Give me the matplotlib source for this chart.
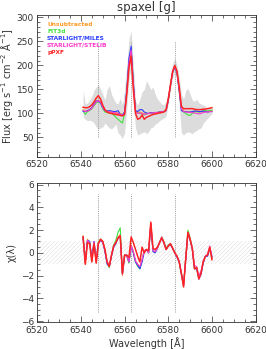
import matplotlib
matplotlib.use("Agg")
import matplotlib.pyplot as plt
from matplotlib.ticker import MultipleLocator

# ---------------- data ----------------
wavelength = list(range(6541, 6601))

flux_unsub = [108,104,106,108,112,118,124,128,124,114,107,105,104,104,103,102,101,100,98,100,
              145,205,232,160,106,102,103,101,99,100,100,101,101,102,102,103,104,104,106,128,
              158,186,198,185,150,112,105,104,104,103,104,105,104,103,104,105,105,104,105,106]
flux_fit3d = [106,98,104,106,110,116,122,125,121,110,103,102,101,100,97,92,88,84,80,100,
              145,205,232,160,104,100,101,99,97,99,100,101,101,102,102,103,104,104,106,128,
              158,186,196,184,148,110,103,100,97,96,100,103,104,103,104,105,106,105,106,107]
flux_miles = [104,104,106,108,112,120,126,126,122,112,106,105,106,105,104,104,106,98,96,104,
              150,215,240,165,106,104,108,108,103,101,100,102,101,102,102,103,104,104,106,128,
              158,186,197,184,148,106,104,104,103,103,104,105,105,104,104,105,104,103,104,104]
flux_stelib = [106,104,105,107,111,118,124,127,123,113,106,104,103,103,102,101,100,98,96,100,
               145,205,232,160,104,100,101,100,98,99,100,101,101,102,102,103,104,104,106,128,
               158,186,198,185,150,110,104,103,103,102,102,101,100,99,100,102,103,103,104,104]
flux_ppxf = [113,112,112,114,118,124,132,137,130,117,108,103,101,100,99,98,97,96,95,98,
             140,195,220,150,100,88,90,97,88,92,94,96,98,99,100,101,102,103,108,130,
             160,188,200,188,155,115,110,110,110,110,110,109,108,108,108,109,109,110,111,112]

env_lower = [92,88,85,86,84,80,72,68,70,72,80,75,70,68,72,78,60,55,48,60,
             110,170,195,120,70,55,58,60,62,58,62,70,72,78,80,85,88,90,95,120,
             150,175,185,170,120,60,55,60,62,60,58,62,65,68,70,80,85,90,95,100]
env_upper = [148,120,122,128,135,148,155,160,150,140,128,150,158,140,130,122,120,132,118,150,
             200,255,272,200,125,118,130,145,150,168,160,150,155,140,130,125,120,118,125,145,
             175,205,215,200,175,140,130,148,152,140,128,125,130,122,120,118,115,112,112,110]

chi_unsub = [1.5,-1.0,1.2,0.9,-0.7,1.0,-0.8,0.9,1.2,1.0,0.3,-0.8,-1.2,-0.2,0.6,0.9,1.4,1.6,-2.0,-0.2,
             -0.3,-0.8,0.7,0.1,-0.7,-1.0,-1.3,-0.6,0.2,0.3,0.0,2.6,0.2,0.1,0.4,0.9,1.4,0.9,0.3,0.6,
             0.8,0.4,0.0,-0.3,-0.8,-1.8,-2.9,-0.5,1.8,1.2,0.4,-1.4,-1.3,-2.2,-1.8,-0.8,-0.3,-0.2,0.5,-0.5]
chi_fit3d = [1.4,-0.6,1.1,1.0,-0.6,0.9,-0.7,1.0,1.2,1.0,0.2,-0.9,-1.3,-0.2,0.7,1.1,1.8,2.2,-1.9,-0.2,
             -0.3,-0.9,0.6,0.0,-0.8,-1.2,-1.4,-0.7,0.2,0.3,0.0,2.5,0.2,0.1,0.4,0.9,1.4,1.0,0.4,0.7,
             0.8,0.4,0.0,-0.3,-0.8,-1.8,-2.8,-0.4,2.0,1.3,0.4,-1.3,-1.3,-2.2,-1.7,-0.8,-0.3,-0.2,0.5,-0.4]
chi_miles = [1.3,-0.8,1.1,1.0,-0.5,1.0,-0.7,0.8,1.1,0.9,0.1,-1.0,-1.2,-0.3,0.5,0.8,1.3,1.4,-1.8,-0.2,
             -0.2,-0.8,0.6,0.0,-0.8,-1.1,-1.4,-0.8,0.1,0.3,0.0,2.5,0.1,0.0,0.4,0.9,1.3,0.9,0.3,0.6,
             0.7,0.4,0.0,-0.4,-0.8,-1.9,-2.8,-0.6,1.7,1.1,0.3,-1.4,-1.4,-2.3,-1.9,-0.9,-0.3,-0.3,0.4,-0.3]
chi_stelib = [1.4,-0.9,1.1,0.9,-0.6,1.0,-0.8,0.9,1.1,1.0,0.2,-0.8,-1.2,-0.2,0.6,0.9,1.3,1.5,-1.9,-0.2,
              -0.3,-0.8,0.6,0.1,-0.7,-1.0,-1.2,-0.6,0.2,0.3,0.0,2.6,0.2,0.1,0.4,0.9,1.4,0.9,0.3,0.6,
              0.8,0.4,0.0,-0.3,-0.7,-1.8,-2.9,-0.5,1.8,1.2,0.4,-1.1,-1.2,-2.0,-1.6,-0.7,-0.3,-0.1,0.6,-0.4]
chi_ppxf = [1.4,-1.0,0.9,0.8,-0.8,0.8,-0.9,0.8,1.2,1.0,0.3,-0.8,-1.2,-0.2,0.6,0.9,1.3,1.5,-1.8,-0.2,
            -0.2,-0.4,1.4,0.9,0.3,-0.3,-0.8,0.5,0.0,0.3,0.2,2.7,0.4,0.3,0.5,0.9,1.3,0.9,0.3,0.6,
            0.8,0.4,0.0,-0.3,-0.8,-1.8,-3.0,-0.5,1.8,1.2,0.4,-1.4,-1.3,-2.3,-1.8,-0.8,-0.3,-0.2,0.5,-0.6]

labels = ["Unsubtracted", "FIT3d", "STARLIGHT/MILES", "STARLIGHT/STELIB", "pPXF"]
colors = ["#ff9a28", "#3ee03e", "#2a3cff", "#ff3ccc", "#ff2424"]
line_widths = [0.8, 0.8, 0.8, 0.8, 1.1]
flux_series = [flux_unsub, flux_fit3d, flux_miles, flux_stelib, flux_ppxf]
chi_series = [chi_unsub, chi_fit3d, chi_miles, chi_stelib, chi_ppxf]
line_positions = [6548, 6563, 6583]

# ---------------- figure ----------------
plt.rcParams['font.family'] = ['DejaVu Sans']
plt.rcParams['hatch.linewidth'] = 0.3
text_col = "#333333"
fig = plt.figure(figsize=(2.66, 3.49), dpi=100)

ax1 = fig.add_axes([0.140, 0.551, 0.821, 0.406])
ax2 = fig.add_axes([0.140, 0.0765, 0.821, 0.398])

# top panel
ax1.fill_between(wavelength, env_lower, env_upper, color="#dcdcdc", linewidth=0, zorder=1)
for xl in line_positions:
    ax1.plot([xl, xl], [50, 250], linestyle=(0, (1, 1.2)), color="#9a9a9a", linewidth=0.7, zorder=2)
for s, c, lw in zip(flux_series, colors, line_widths):
    ax1.plot(wavelength, s, color=c, linewidth=lw, zorder=3)
ax1.set_xlim(6520, 6620)
ax1.set_ylim(10, 305)
ax1.set_yticks([50, 100, 150, 200, 250, 300])
ax1.yaxis.set_minor_locator(MultipleLocator(10))
ax1.set_ylabel("Flux [erg s$^{-1}$ cm$^{-2}$ Å$^{-1}$]", fontsize=7, color=text_col, labelpad=1)
ax1.set_title("spaxel [g]", fontsize=8.5, color=text_col, pad=3)

y0 = 0.935
for i, (lab, c) in enumerate(zip(labels, colors)):
    ax1.text(0.045, y0 - i * 0.05, lab, color=c, fontsize=4.2, fontweight='bold',
             transform=ax1.transAxes, va='center', ha='left')

# bottom panel
ax2.fill_between([6520, 6620], -1, 1, facecolor='none', edgecolor="#d4d4d4",
                 hatch='////////', linewidth=0, zorder=1)
for xl in line_positions:
    ax2.plot([xl, xl], [-5.2, 5.2], linestyle=(0, (1, 1.2)), color="#9a9a9a", linewidth=0.7, zorder=2)
for s, c, lw in zip(chi_series, colors, line_widths):
    ax2.plot(wavelength, s, color=c, linewidth=lw, zorder=3)
ax2.set_xlim(6520, 6620)
ax2.set_ylim(-6.1, 6.1)
ax2.set_yticks([-6, -4, -2, 0, 2, 4, 6])
ax2.yaxis.set_minor_locator(MultipleLocator(0.5))
ax2.set_ylabel("χ(λ)", fontsize=7, color=text_col, labelpad=3)
ax2.set_xlabel("Wavelength [Å]", fontsize=7, color=text_col, labelpad=2)

for ax in (ax1, ax2):
    ax.set_xticks([6520, 6540, 6560, 6580, 6600, 6620])
    ax.xaxis.set_minor_locator(MultipleLocator(5))
    ax.tick_params(which='both', direction='in', top=True, right=True, colors=text_col,
                   labelsize=6.5, width=0.5, pad=2.5)
    ax.tick_params(which='major', length=4)
    ax.tick_params(which='minor', length=2)
    for sp in ax.spines.values():
        sp.set_linewidth(0.6)
        sp.set_color(text_col)

fig.savefig("out.png", dpi=100)
